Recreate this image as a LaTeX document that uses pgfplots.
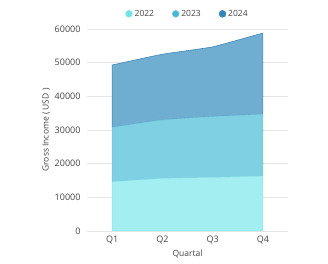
\documentclass[border=0pt]{standalone}
\usepackage{pgfplots}
\pgfplotsset{compat=1.18}
\usepackage{fontspec}
\setmainfont{Open Sans}
\definecolor{c22}{HTML}{A3EEF0}
\definecolor{c23}{HTML}{80D0E3}
\definecolor{c24}{HTML}{70AED1}
\definecolor{l22}{HTML}{8FE6EA}
\definecolor{l23}{HTML}{6FC3DB}
\definecolor{l24}{HTML}{3F86B4}
\definecolor{m22}{HTML}{6EE3E8}
\definecolor{m23}{HTML}{45B9D3}
\definecolor{m24}{HTML}{2E86B9}
\definecolor{gridc}{HTML}{E6E6E6}
\definecolor{txt}{HTML}{444444}
\begin{document}
\begin{tikzpicture}
\begin{axis}[
  scale only axis,
  width=201pt, height=202pt,
  xmin=0.5, xmax=4.5, ymin=0, ymax=60000,
  xtick={1,2,3,4}, xticklabels={Q1,Q2,Q3,Q4},
  ytick={0,10000,20000,30000,40000,50000,60000},
  scaled y ticks=false,
  /pgf/number format/assume math mode=true,
  /pgf/number format/set thousands separator={},
  ymajorgrids, grid style={gridc, line width=0.6pt},
  axis x line*=bottom, axis y line*=left,
  x axis line style={gridc, line width=0.8pt, -},
  y axis line style={draw=none},
  tick style={draw=none},
  ticklabel style={font=\fontsize{9}{10}\selectfont, text=txt},
  xticklabel style={yshift=-1pt},
  yticklabel style={xshift=-3pt},
  xlabel={Quartal}, ylabel={Gross Income ( USD )},
  label style={font=\fontsize{8.5}{10}\selectfont, text=txt},
  xlabel style={yshift=0pt},
  ylabel style={yshift=-2pt},
  stack plots=y,
  clip=false,
  legend columns=3,
  legend style={draw=none, fill=none, at={(0.5,1.075)}, anchor=center,
    font=\fontsize{8.5}{10}\selectfont, text=txt,
    /tikz/every even column/.append style={column sep=16pt}},
  legend image code/.code={\fill[#1] (0.12cm,0cm) circle (3.4pt);},
]
\addplot[draw=l22, fill=c22, line width=0.5pt, smooth, tension=0.25, legend image post style={fill=m22}] coordinates {(1,14600) (2,15600) (3,15900) (4,16300)} \closedcycle;
\addlegendentry{2022}
\addplot[draw=l23, fill=c23, line width=0.5pt, smooth, tension=0.25, legend image post style={fill=m23}] coordinates {(1,16200) (2,17400) (3,18100) (4,18400)} \closedcycle;
\addlegendentry{2023}
\addplot[draw=l24, fill=c24, line width=0.6pt, smooth, tension=0.25, legend image post style={fill=m24}] coordinates {(1,18500) (2,19500) (3,20700) (4,24100)} \closedcycle;
\addlegendentry{2024}
\coordinate (ll) at (rel axis cs:0,0);
\coordinate (ur) at (rel axis cs:1,1);
\end{axis}
\path ([shift={(-87pt,-33pt)}]ll) rectangle ([shift={(40pt,29pt)}]ur);
\end{tikzpicture}
\end{document}
